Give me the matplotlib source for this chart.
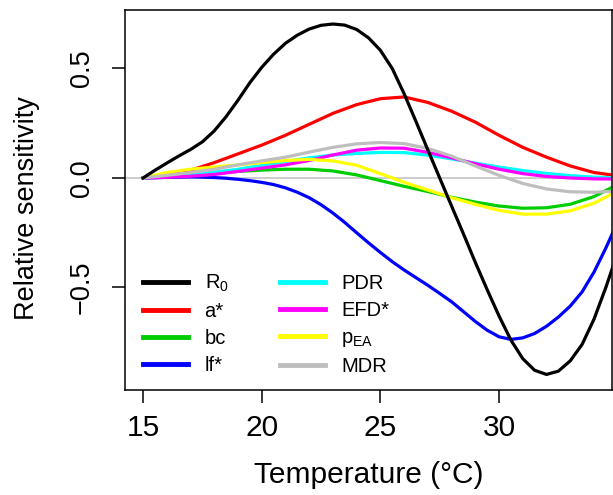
"""
Relative sensitivity of R0 and its components to temperature
"""

from matplotlib import pyplot as plt, rcParams as rcP

# Graph settings
rcP["font.family"] = "sans-serif"
rcP["font.sans-serif"] = ["Liberation Sans", "DejaVu Sans"]
rcP["mathtext.fontset"] = "custom"
rcP["mathtext.rm"] = "Liberation Sans"

# Temperature grids (deg C)
temp_fine = [15 + 0.5 * i for i in range(41)]
temp = list(range(15, 36))

# R0 and lf*, read at 0.5 degree steps
r0 = [0.0, 0.035, 0.068, 0.10, 0.13, 0.165, 0.215, 0.28, 0.355, 0.435,
      0.505, 0.565, 0.615, 0.652, 0.68, 0.697, 0.703, 0.698, 0.678, 0.64,
      0.583, 0.50, 0.385, 0.258, 0.128, 0.0, -0.128, -0.255, -0.385, -0.51,
      -0.63, -0.74, -0.825, -0.878, -0.897, -0.882, -0.835, -0.76, -0.645, -0.50,
      -0.34]
lf = [0.0, 0.001, 0.003, 0.004, 0.005, 0.004, 0.002, -0.001, -0.006, -0.012,
      -0.02, -0.03, -0.045, -0.065, -0.09, -0.122, -0.16, -0.203, -0.25, -0.296,
      -0.34, -0.382, -0.42, -0.455, -0.49, -0.527, -0.565, -0.61, -0.655, -0.695,
      -0.725, -0.737, -0.73, -0.71, -0.677, -0.635, -0.585, -0.52, -0.43, -0.32,
      -0.20]

# Other components, read at 1 degree steps
a = [0, 0.01, 0.035, 0.07, 0.11, 0.15, 0.195, 0.245, 0.295, 0.335, 0.362,
     0.37, 0.345, 0.305, 0.255, 0.195, 0.14, 0.095, 0.055, 0.025, 0.01]
bc = [0, 0.008, 0.016, 0.023, 0.03, 0.036, 0.04, 0.04, 0.032, 0.014, -0.012,
      -0.038, -0.062, -0.088, -0.11, -0.128, -0.138, -0.136, -0.12, -0.085, -0.03]
pdr = [0, 0.006, 0.014, 0.026, 0.04, 0.058, 0.075, 0.092, 0.105, 0.112, 0.117,
       0.116, 0.104, 0.087, 0.068, 0.05, 0.034, 0.021, 0.011, 0.004, 0.0]
efd = [0, 0.003, 0.008, 0.016, 0.03, 0.045, 0.06, 0.08, 0.105, 0.127, 0.137,
       0.136, 0.117, 0.092, 0.065, 0.04, 0.02, 0.007, 0.0, -0.004, -0.005]
pea = [0, 0.025, 0.04, 0.05, 0.06, 0.07, 0.08, 0.085, 0.078, 0.058, 0.02,
       -0.02, -0.055, -0.09, -0.12, -0.148, -0.165, -0.165, -0.15, -0.115, -0.06]
mdr = [0, 0.012, 0.025, 0.04, 0.06, 0.078, 0.095, 0.118, 0.14, 0.156, 0.162,
       0.157, 0.135, 0.10, 0.055, 0.012, -0.025, -0.05, -0.063, -0.065, -0.06]

fig = plt.figure(figsize=(6.13, 4.95), dpi=100)
ax = fig.add_axes([125 / 613, 105 / 495, 487 / 613, 380 / 495])

# Zero line
ax.axhline(0, color="#C8C8C8", lw=1.3, zorder=1)

lw = 2.3
h_a, = ax.plot(temp, a, color="#FF0000", lw=lw)
h_bc, = ax.plot(temp, bc, color="#00CD00", lw=lw)
h_lf, = ax.plot(temp_fine, lf, color="#0000FF", lw=lw)
h_pdr, = ax.plot(temp, pdr, color="#00FFFF", lw=lw)
h_efd, = ax.plot(temp, efd, color="#FF00FF", lw=lw)
h_pea, = ax.plot(temp, pea, color="#FFFF00", lw=lw)
h_mdr, = ax.plot(temp, mdr, color="#BEBEBE", lw=lw)
h_r0, = ax.plot(temp_fine, r0, color="black", lw=lw)

ax.set_xlim(14.24, 34.76)
ax.set_ylim(-0.968, 0.767)
ax.set_xticks([15, 20, 25, 30])
ax.set_yticks([-0.5, 0.0, 0.5])
ax.set_yticklabels(["\u22120.5", "0.0", "0.5"], rotation=90, va="center")

ax.tick_params(length=9.5, width=1.1)
ax.tick_params(axis="x", pad=8, labelsize=21.5)
ax.tick_params(axis="y", pad=12, labelsize=19.5)
for s in ax.spines.values():
    s.set_linewidth(1.1)

ax.set_xlabel("Temperature (\u00b0C)", fontsize=21.5)
ax.set_ylabel("Relative sensitivity", fontsize=19.5)
ax.xaxis.set_label_coords(0.5, -0.187)
ax.yaxis.set_label_coords(-0.175, 0.48)

# Legend in two columns
handles = [h_r0, h_a, h_bc, h_lf, h_pdr, h_efd, h_pea, h_mdr]
labels = ["R$_\\mathregular{0}$", "a*", "bc", "lf*",
          "PDR", "EFD*", "p$_\\mathregular{EA}$", "MDR"]
leg = ax.legend(handles, labels, ncol=2, frameon=False, fontsize=14.5,
                loc="upper left", bbox_to_anchor=(0.0376, 0.308),
                handlelength=2.24, handletextpad=0.8, columnspacing=2.55,
                labelspacing=0.4, borderpad=0, borderaxespad=0)
for line in leg.get_lines():
    line.set_linewidth(3.5)

fig.savefig("out.png", dpi=100)
